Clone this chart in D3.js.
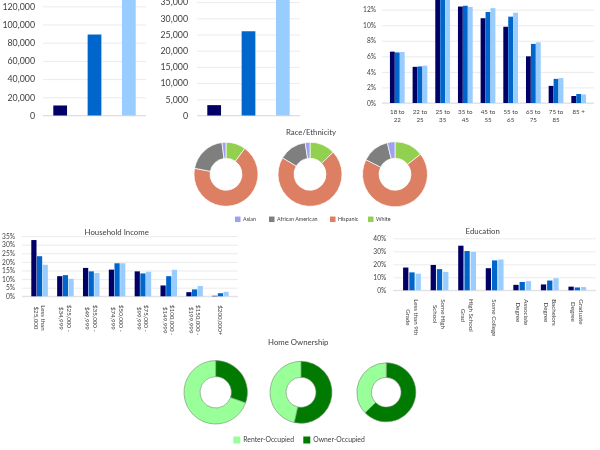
<!DOCTYPE html>
<html lang="en">
<head>
<meta charset="UTF-8">
<title>Demographics</title>
<script src="https://cdn.jsdelivr.net/npm/d3@7"></script>
<style>
    html, body { margin: 0; padding: 0; background: #fff; }
    svg { display: block; filter: blur(0.35px); }
    text { font-family: Lato, "Open Sans", sans-serif; fill: #404040; }
</style>
</head>
<body>
<svg width="600" height="450"></svg>
<script>
// colours for the three areas compared in every bar chart
var seriesColors = ["#000066", "#0066cc", "#99ccff"];

// top left and top middle: single totals (the third bar runs off the top)
var totalsA = [11000, 89000, 135000];
var totalsATicks = [0, 20000, 40000, 60000, 80000, 100000, 120000];
var totalsB = [3200, 26000, 38000];
var totalsBTicks = [0, 5000, 10000, 15000, 20000, 25000, 30000, 35000];

// age
var ageCats = ["18 to\n22", "22 to\n25", "25 to\n35", "35 to\n45", "45 to\n55", "55 to\n65", "65 to\n75", "75 to\n85", "85 +"];
var ageA = [6.6, 4.65, 14.6, 12.4, 10.9, 9.8, 6.0, 2.2, 0.9];
var ageB = [6.5, 4.7, 14.3, 12.5, 11.7, 11.1, 7.6, 3.1, 1.15];
var ageC = [6.55, 4.8, 14.0, 12.35, 12.2, 11.6, 7.8, 3.2, 1.1];
var ageTicks = [0, 2, 4, 6, 8, 10, 12];

// household income
var incomeCats = ["Less than\n$25,000", "$25,000 -\n$34,999", "$35,000 -\n$49,999", "$50,000 -\n$74,999", "$75,000 -\n$99,999", "$100,000 -\n$149,999", "$150,000 -\n$199,999", "$200,000+"];
var incomeA = [32.7, 11.7, 16.5, 15.5, 14.5, 6.3, 2.4, 0.3];
var incomeB = [23.3, 12.3, 14.5, 19.2, 13.3, 11.7, 4.0, 1.8];
var incomeC = [18.3, 10.2, 13.5, 19.2, 14.3, 15.4, 6.0, 2.6];
var incomeTicks = [0, 5, 10, 15, 20, 25, 30, 35];

// education
var eduCats = ["Less than 9th\nGrade", "Some High\nSchool", "High School\nGrad", "Some College", "Associate\nDegree", "Bachelors\nDegree", "Graduate\nDegree"];
var eduA = [17.5, 19.5, 34.3, 17.0, 4.2, 4.5, 2.8];
var eduB = [13.8, 16.3, 30.2, 23.0, 6.4, 7.5, 2.2];
var eduC = [12.8, 14.2, 29.5, 23.7, 7.0, 9.3, 2.5];
var eduTicks = [0, 10, 20, 30, 40];

// race/ethnicity donuts, clockwise from the top
var raceNames = ["White", "Hispanic", "African American", "Asian"];
var raceLegend = ["Asian", "African American", "Hispanic", "White"];
var raceColors = ["#92d050", "#dc7f62", "#7f7f7f", "#a0a0f0"];
var raceA = [10, 68, 20, 2];
var raceB = [12.9, 70.7, 14, 2.4];
var raceC = [14.4, 68, 13.8, 3.8];

// home ownership donuts
var homeNames = ["Owner-Occupied", "Renter-Occupied"];
var homeLegend = ["Renter-Occupied", "Owner-Occupied"];
var homeColors = ["#007a00", "#99ff99"];
var homeA = [30.4, 69.6];
var homeB = [53.5, 46.5];
var homeC = [62.8, 37.2];

var svg = d3.select("svg");

function title(txt, x, y) {
    svg.append("text").attr("x", x).attr("y", y).attr("text-anchor", "middle")
        .attr("font-size", 7.8).attr("dy", "0.35em").text(txt);
}

// value axis with its tick lines stretched into gridlines
function yGrid(y, ticks, x0, x1, fmt, fontSize, gap) {
    var g = svg.append("g").attr("transform", "translate(" + x0 + ",0)")
        .call(d3.axisLeft(y).tickValues(ticks).tickSize(-(x1 - x0)).tickPadding(gap).tickFormat(fmt));
    g.select(".domain").remove();
    g.selectAll("line").attr("stroke", "#e6e6e6").attr("stroke-width", 0.8);
    g.selectAll("text").attr("font-size", fontSize).style("font-family", "Lato").attr("fill", "#404040");
    svg.append("line").attr("x1", x0).attr("x2", x1).attr("y1", y(0)).attr("y2", y(0))
        .attr("stroke", "#d9d9d9").attr("stroke-width", 0.8);
}

function totalsChart(values, ticks, left, right, base, top, domainMax, gap) {
    var y = d3.scaleLinear().domain([0, domainMax]).range([base, top]);
    var x = d3.scaleBand().domain(d3.range(values.length)).range([left, right]).paddingInner(0.6).paddingOuter(0.3);
    yGrid(y, ticks, left, right, d3.format(","), 8.8, gap);
    svg.append("g").selectAll("rect").data(values).join("rect")
        .attr("x", function (d, i) { return x(i); })
        .attr("y", function (d) { return y(d); })
        .attr("width", x.bandwidth())
        .attr("height", function (d) { return base - y(d); })
        .attr("fill", function (d, i) { return seriesColors[i]; });
}

function groupedChart(o) {
    var y = d3.scaleLinear().domain([0, o.domainMax]).range([o.base, o.top]);
    var x0 = d3.scaleBand().domain(o.cats).range([o.left, o.right]).padding(o.groupPad);
    var x1 = d3.scaleBand().domain(d3.range(o.series.length)).range([0, x0.bandwidth()]).paddingInner(o.barPad);
    yGrid(y, o.ticks, o.left, o.right, function (d) { return d + "%"; }, o.tickSize, o.tickGap);

    o.series.forEach(function (vals, s) {
        svg.append("g").selectAll("rect").data(vals).join("rect")
            .attr("x", function (d, i) { return x0(o.cats[i]) + x1(s); })
            .attr("y", function (d) { return y(d); })
            .attr("width", x1.bandwidth())
            .attr("height", function (d) { return o.base - y(d); })
            .attr("fill", seriesColors[s]);
    });

    // labelTop is measured down from the baseline
    var ax = svg.append("g").attr("transform", "translate(0," + o.base + ")")
        .call(d3.axisBottom(x0).tickSize(0).tickFormat(""));
    ax.select(".domain").remove();
    ax.selectAll(".tick").each(function (d) {
        var t = d3.select(this).select("text").text(null)
            .attr("y", null).attr("dy", null).attr("text-anchor", "middle")
            .attr("font-size", o.labelSize).style("font-family", "Lato").attr("fill", "#404040");
        var lines = d.split("\n");
        lines.forEach(function (l, i) {
            var ly = o.rotate ? (i - (lines.length - 1) / 2) * o.lineH : i * o.lineH;
            t.append("tspan").attr("x", 0).attr("y", ly).attr("dy", "0.35em").text(l);
        });
        if (o.rotate) {
            var w = t.node().getBBox().width;
            t.attr("transform", "translate(0," + (o.labelTop + w / 2) + ") rotate(90)");
        } else {
            t.attr("transform", "translate(0," + o.labelTop + ")");
        }
    });
}

function donut(values, colors, cx, cy, r, inner, stroke, strokeW) {
    var pie = d3.pie().sort(null);
    var arc = d3.arc().innerRadius(inner).outerRadius(r);
    svg.append("g").attr("transform", "translate(" + cx + "," + cy + ")")
        .selectAll("path").data(pie(values)).join("path")
        .attr("d", arc)
        .attr("fill", function (d, i) { return colors[i]; })
        .attr("stroke", stroke).attr("stroke-width", strokeW);
}

function legend(names, allNames, colors, items, y, size, fontSize) {
    items.forEach(function (it, i) {
        svg.append("rect").attr("x", it[0]).attr("y", y - size / 2).attr("width", size).attr("height", size)
            .attr("fill", colors[allNames.indexOf(names[i])]);
        svg.append("text").attr("x", it[1]).attr("y", y).attr("dy", "0.35em")
            .attr("font-size", fontSize).text(names[i]);
    });
}

totalsChart(totalsA, totalsATicks, 43, 146, 115.5, -11.9, 140000, 8);
totalsChart(totalsB, totalsBTicks, 197, 300, 115.5, -14.1, 40000, 9);

groupedChart({
    cats: ageCats, series: [ageA, ageB, ageC], ticks: ageTicks,
    left: 382, right: 594, base: 103, top: -5.9, domainMax: 14,
    groupPad: 0.35, barPad: 0.02, tickSize: 6.6, tickGap: 6,
    labelSize: 6.2, lineH: 8.5, labelTop: 8.7, rotate: false
});

title("Race/Ethnicity", 311, 132.7);
donut(raceA, raceColors, 226, 174.3, 32, 16, "#fff", 0.7);
donut(raceB, raceColors, 310, 174.3, 32, 16, "#fff", 0.7);
donut(raceC, raceColors, 395, 174.3, 32.5, 16, "#fff", 0.7);
legend(raceLegend, raceNames, raceColors, [[235, 243], [269, 277], [330, 338], [368, 376]], 219.3, 5.5, 5.4);

title("Household Income", 116.7, 232);
groupedChart({
    cats: incomeCats, series: [incomeA, incomeB, incomeC], ticks: incomeTicks,
    left: 22, right: 238, base: 296.3, top: 227.5, domainMax: 40,
    groupPad: 0.36, barPad: 0.08, tickSize: 6.6, tickGap: 7,
    labelSize: 6.2, lineH: 7.5, labelTop: 8.7, rotate: true
});

title("Education", 482.7, 231.7);
groupedChart({
    cats: eduCats, series: [eduA, eduB, eduC], ticks: eduTicks,
    left: 393.3, right: 596, base: 290.3, top: 238.3, domainMax: 40,
    groupPad: 0.355, barPad: 0.15, tickSize: 6.6, tickGap: 7,
    labelSize: 6.2, lineH: 8, labelTop: 8.7, rotate: true
});

title("Home Ownership", 298.3, 342.7);
donut(homeA, homeColors, 215.7, 392.3, 31.7, 15.7, "#6f8f6f", 0.6);
donut(homeB, homeColors, 301, 392.3, 31, 15, "#6f8f6f", 0.6);
donut(homeC, homeColors, 386.3, 392.3, 29.5, 14.8, "#6f8f6f", 0.6);
legend(homeLegend, homeNames, homeColors, [[233.3, 243.3], [303.3, 313.3]], 440, 7, 6.8);
</script>
</body>
</html>
